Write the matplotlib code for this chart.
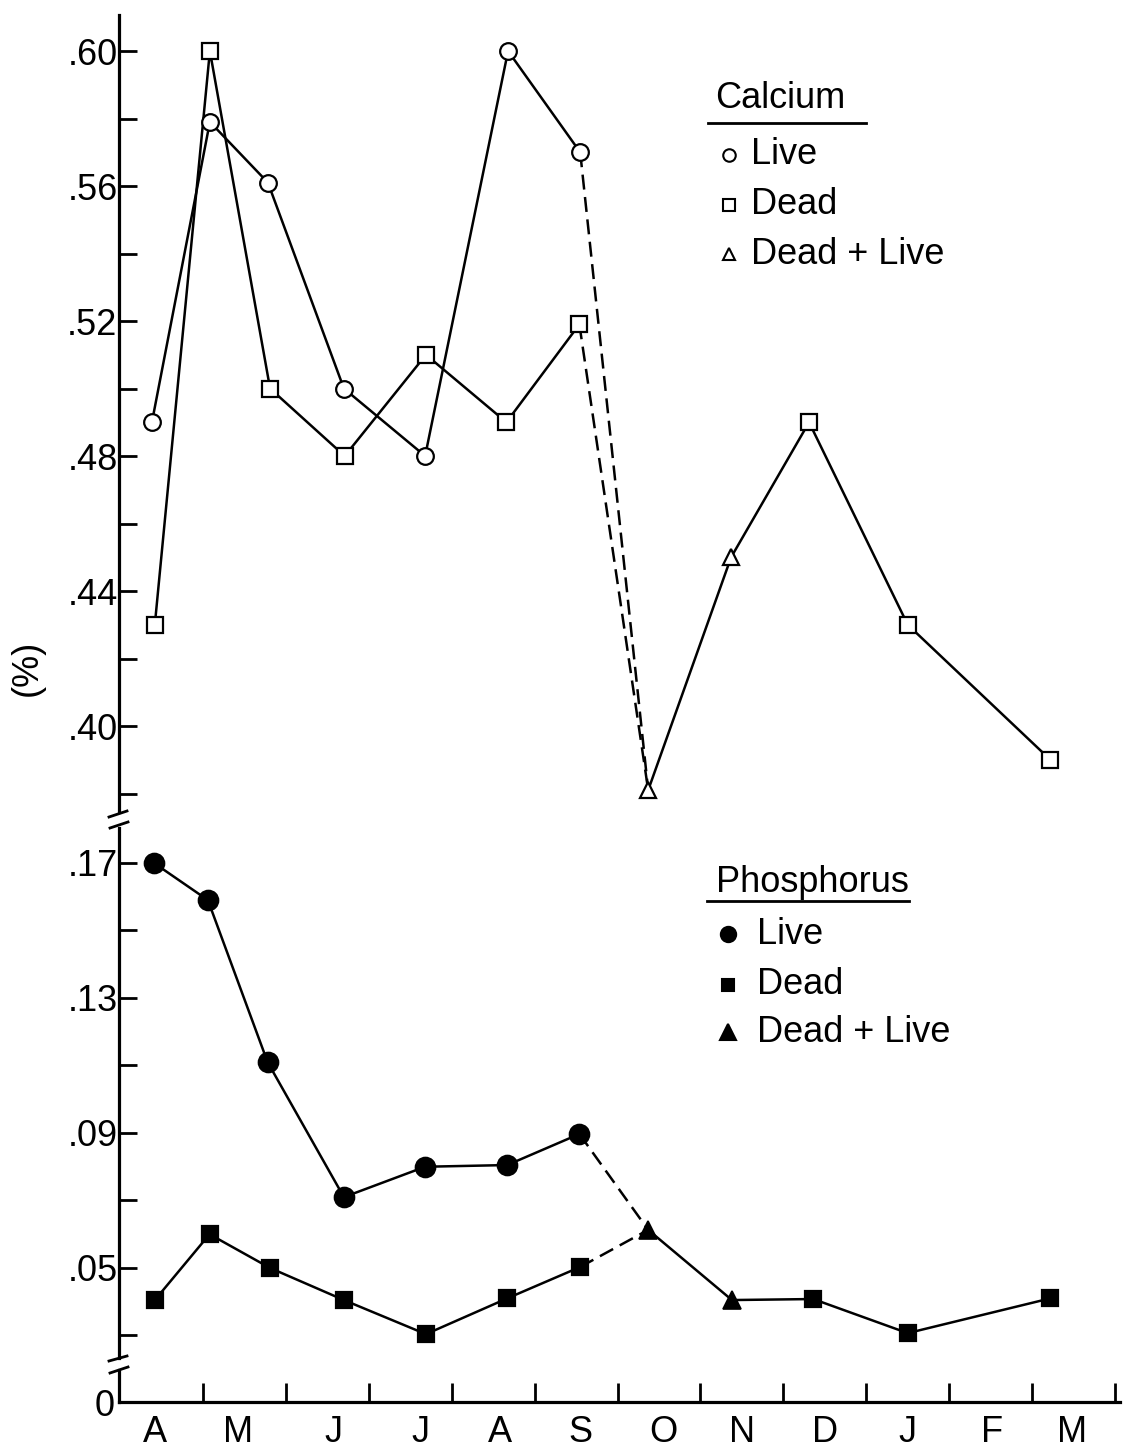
import matplotlib
matplotlib.use("Agg")
import matplotlib.pyplot as plt
from matplotlib.lines import Line2D
from matplotlib import font_manager

# ---------------- data ----------------
month_labels = ["A", "M", "J", "J", "A", "S", "O", "N", "D", "J", "F", "M"]
month_label_x = [0.42, 1.42, 2.57, 3.62, 4.58, 5.55, 6.55, 7.50, 8.50, 9.50, 10.52, 11.48]
month_bounds = [1, 2, 3, 4, 5, 6, 7, 8, 9, 10, 11, 12]

# Calcium
ca_live_x = [0.385, 1.084, 1.784, 2.70, 3.68, 4.68, 5.55]
ca_live_y = [0.49, 0.579, 0.561, 0.50, 0.48, 0.60, 0.570]
ca_dead_x = [0.42, 1.084, 1.81, 2.71, 3.69, 4.66, 5.54]
ca_dead_y = [0.43, 0.60, 0.50, 0.48, 0.51, 0.49, 0.519]
ca_comb_x = [6.37, 7.37]
ca_comb_y = [0.381, 0.45]
ca_dead2_x = [8.31, 9.50, 11.22]
ca_dead2_y = [0.49, 0.43, 0.39]

# Phosphorus
p_live_x = [0.41, 1.06, 1.78, 2.70, 3.68, 4.67, 5.54]
p_live_y = [0.170, 0.159, 0.111, 0.071, 0.080, 0.0805, 0.0897]
p_dead_x = [0.42, 1.08, 1.81, 2.70, 3.69, 4.67, 5.55]
p_dead_y = [0.0405, 0.060, 0.050, 0.0405, 0.0304, 0.041, 0.0503]
p_comb_x = [6.37, 7.38]
p_comb_y = [0.0613, 0.0405]
p_dead2_x = [8.36, 9.50, 11.22]
p_dead2_y = [0.0408, 0.0307, 0.041]

ca_ticks = [0.38, 0.40, 0.42, 0.44, 0.46, 0.48, 0.50, 0.52, 0.54, 0.56, 0.58, 0.60]
ca_ticklabels = ["", ".40", "", ".44", "", ".48", "", ".52", "", ".56", "", ".60"]
p_ticks = [0.03, 0.05, 0.07, 0.09, 0.11, 0.13, 0.15, 0.17]
p_ticklabels = ["", ".05", "", ".09", "", ".13", "", ".17"]

# ---------------- style ----------------
def pick_font():
    for name in ["Liberation Sans", "DejaVu Sans"]:
        try:
            font_manager.findfont(name, fallback_to_default=False)
            return name
        except Exception:
            pass
    return "DejaVu Sans"

FONT = pick_font()
plt.rcParams["font.family"] = [FONT]

W_PX, H_PX = 1126, 1449
fig = plt.figure(figsize=(W_PX / 100, H_PX / 100), dpi=100)

def fx(x):
    return x / W_PX

def fy(y):
    return 1 - y / H_PX

LEFT = fx(119)
WIDTH = fx(1120) - LEFT
XLIM = (-0.012, 12.06)

ax1 = fig.add_axes([LEFT, fy(812), WIDTH, fy(15) - fy(812)])
ax2 = fig.add_axes([LEFT, fy(1358), WIDTH, fy(828) - fy(1358)])
ax3 = fig.add_axes([LEFT, fy(1402), WIDTH, fy(1370) - fy(1402)])

SPW = 2.3
LW = 1.8
TICKFS = 26
for ax in (ax1, ax2, ax3):
    ax.set_xlim(*XLIM)
    for s in ("top", "right"):
        ax.spines[s].set_visible(False)
    ax.spines["left"].set_linewidth(SPW)
    ax.spines["bottom"].set_visible(False)
    ax.set_xticks([])
    ax.patch.set_alpha(0)

ax3.spines["bottom"].set_visible(True)
ax3.spines["bottom"].set_linewidth(SPW)

ax1.set_ylim(0.37452, 0.61067)
ax2.set_ylim(0.02333, 0.18037)
ax3.set_ylim(0, 1)

for ax, ticks, labels in ((ax1, ca_ticks, ca_ticklabels), (ax2, p_ticks, p_ticklabels)):
    ax.set_yticks(ticks)
    ax.set_yticklabels(labels)
    ax.tick_params(axis="y", direction="in", length=13, width=2.0, labelsize=TICKFS, pad=1)

ax3.set_yticks([0])
ax3.set_yticklabels(["0"])
ax3.tick_params(axis="y", length=0, labelsize=TICKFS, pad=3)

ax3.set_xticks(month_bounds)
ax3.set_xticklabels([])
ax3.set_xticks(month_label_x, minor=True)
ax3.set_xticklabels(month_labels, minor=True)
ax3.tick_params(axis="x", which="major", direction="in", length=14, width=2.0)
ax3.tick_params(axis="x", which="minor", length=0, labelsize=TICKFS, pad=9)

K = "black"
DASH = (6, 3)

def series(ax, x, y, marker, ms, filled):
    ax.plot(x, y, color=K, lw=LW, zorder=2)
    ax.plot(x, y, ls="none", marker=marker, ms=ms, mec=K, mew=1.6,
            mfc=K if filled else "white", zorder=3)

# Calcium
series(ax1, ca_live_x, ca_live_y, "o", 12, False)
series(ax1, ca_dead_x, ca_dead_y, "s", 11, False)
ax1.plot([ca_live_x[-1], ca_comb_x[0]], [ca_live_y[-1], ca_comb_y[0]], color=K, lw=LW,
         ls=(0, DASH), zorder=2)
ax1.plot([ca_dead_x[-1], ca_comb_x[0]], [ca_dead_y[-1], ca_comb_y[0]], color=K, lw=LW,
         ls=(0, DASH), zorder=2)
ax1.plot(ca_comb_x + ca_dead2_x, ca_comb_y + ca_dead2_y, color=K, lw=LW, zorder=2)
ax1.plot(ca_comb_x, ca_comb_y, ls="none", marker="^", ms=12, mec=K, mew=1.6, mfc="white", zorder=3)
ax1.plot(ca_dead2_x, ca_dead2_y, ls="none", marker="s", ms=11, mec=K, mew=1.6, mfc="white", zorder=3)
for ln in ax1.lines:
    ln.set_clip_on(False)

# Phosphorus
series(ax2, p_live_x, p_live_y, "o", 14, True)
series(ax2, p_dead_x, p_dead_y, "s", 12, True)
ax2.plot([p_live_x[-1], p_comb_x[0]], [p_live_y[-1], p_comb_y[0]], color=K, lw=LW,
         ls=(0, DASH), zorder=2)
ax2.plot([p_dead_x[-1], p_comb_x[0]], [p_dead_y[-1], p_comb_y[0]], color=K, lw=LW,
         ls=(0, DASH), zorder=2)
ax2.plot(p_comb_x + p_dead2_x, p_comb_y + p_dead2_y, color=K, lw=LW, zorder=2)
ax2.plot(p_comb_x, p_comb_y, ls="none", marker="^", ms=13, mec=K, mew=1.2, mfc=K, zorder=3)
ax2.plot(p_dead2_x, p_dead2_y, ls="none", marker="s", ms=12, mec=K, mew=1.6, mfc=K, zorder=3)
for ln in ax2.lines:
    ln.set_clip_on(False)

# Axis break marks
for (x0, y0, x1, y1) in [(109, 817, 127, 811), (110, 828, 128, 822),
                         (109, 1361, 127, 1356), (110, 1373, 128, 1367)]:
    fig.add_artist(Line2D([fx(x0), fx(x1)], [fy(y0), fy(y1)], color=K, lw=2.0))

# y-axis label
fig.text(fx(27), fy(668), "(%)", rotation=90, ha="center", va="center", fontsize=26)

# Legends (hand-built, as in the original figure)
LEGFS = 26
def legend_block(title, title_xy, line_x, line_y, entries, marker_x, text_x):
    fig.text(fx(title_xy[0]), fy(title_xy[1]), title, ha="left", va="center", fontsize=LEGFS)
    fig.add_artist(Line2D([fx(line_x[0]), fx(line_x[1])], [fy(line_y), fy(line_y)], color=K, lw=2.0))
    for (label, marker, ms, filled, y) in entries:
        fig.add_artist(Line2D([fx(marker_x)], [fy(y)], ls="none", marker=marker, ms=ms, mec=K,
                              mew=1.5, mfc=K if filled else "white"))
        fig.text(fx(text_x), fy(y), label, ha="left", va="center", fontsize=LEGFS)

legend_block("Calcium", (715, 99), (708, 866), 123,
             [("Live", "o", 9, False, 155), ("Dead", "s", 8, False, 205),
              ("Dead + Live", "^", 9, False, 254)], 729, 751)
legend_block("Phosphorus", (716, 882), (707, 909), 901,
             [("Live", "o", 11, True, 934), ("Dead", "s", 9, True, 985),
              ("Dead + Live", "^", 11, True, 1032)], 728, 757)

fig.savefig("out.png", dpi=100, facecolor="white")
